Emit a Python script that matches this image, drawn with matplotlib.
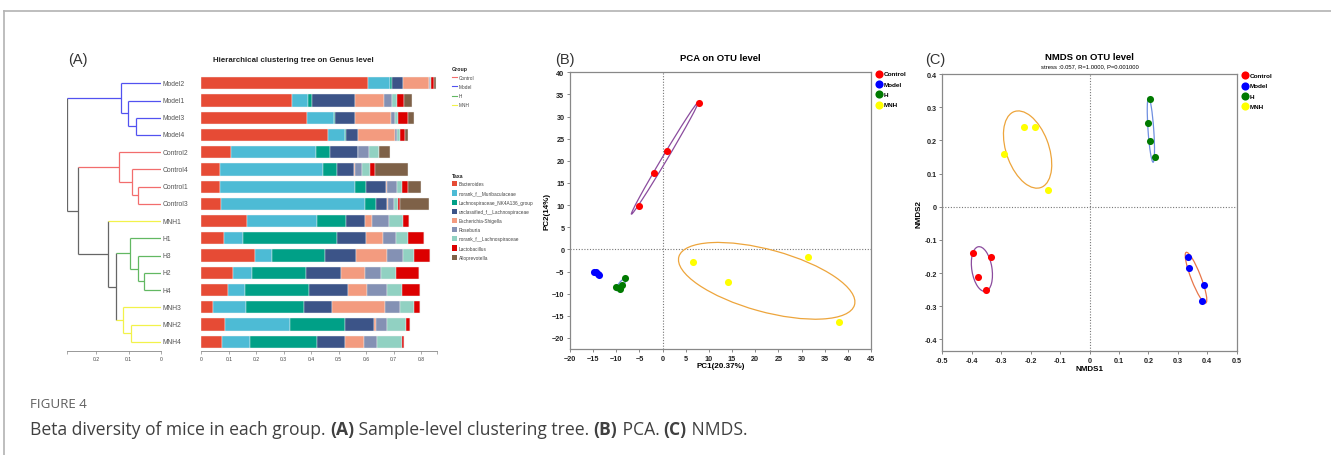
import numpy as np
import matplotlib
matplotlib.use("Agg")
import matplotlib.pyplot as plt
from matplotlib.patches import Ellipse, Rectangle
from matplotlib.lines import Line2D

plt.rcParams['font.family'] = ['Liberation Sans', 'DejaVu Sans']

W, H = 1331, 456

# ---------------- panel A data ----------------
samples = ["Model2", "Model1", "Model3", "Model4", "Control2", "Control4", "Control1", "Control3",
           "MNH1", "H1", "H3", "H2", "H4", "MNH3", "MNH2", "MNH4"]
groups = ["Control", "Model", "H", "MNH"]
group_line_colors = {"Control": "#f26d6d", "Model": "#5252f0", "H": "#62b862", "MNH": "#f2f24a"}

taxa = ["Bacteroides", "norank_f__Muribaculaceae", "Lachnospiraceae_NK4A136_group",
        "unclassified_f__Lachnospiraceae", "Escherichia-Shigella", "Roseburia",
        "norank_f__Lachnospiraceae", "Lactobacillus", "Alloprevotella"]
taxa_colors = ["#E64B35", "#4DBBD5", "#00A087", "#3C5488", "#F39B7F",
               "#8491B4", "#91D1C2", "#DC0000", "#7E6148"]

# relative abundance per sample, columns follow `taxa`
abundance = [
    [0.608, 0.081, 0.004, 0.042, 0.093, 0.004, 0.006, 0.008, 0.010],  # Model2
    [0.331, 0.058, 0.013, 0.158, 0.107, 0.029, 0.017, 0.025, 0.030],  # Model1
    [0.386, 0.097, 0.005, 0.072, 0.132, 0.013, 0.012, 0.034, 0.023],  # Model3
    [0.462, 0.062, 0.002, 0.046, 0.135, 0.007, 0.008, 0.019, 0.012],  # Model4
    [0.109, 0.307, 0.053, 0.102, 0.000, 0.039, 0.036, 0.000, 0.041],  # Control2
    [0.068, 0.377, 0.050, 0.062, 0.003, 0.027, 0.027, 0.018, 0.119],  # Control4
    [0.068, 0.492, 0.038, 0.075, 0.002, 0.036, 0.021, 0.022, 0.045],  # Control1
    [0.072, 0.524, 0.040, 0.042, 0.002, 0.020, 0.015, 0.010, 0.103],  # Control3
    [0.165, 0.255, 0.106, 0.070, 0.027, 0.061, 0.050, 0.023, 0.000],  # MNH1
    [0.081, 0.072, 0.341, 0.104, 0.062, 0.049, 0.045, 0.056, 0.000],  # H1
    [0.195, 0.061, 0.194, 0.115, 0.113, 0.055, 0.041, 0.059, 0.000],  # H3
    [0.117, 0.067, 0.198, 0.126, 0.087, 0.059, 0.055, 0.084, 0.000],  # H2
    [0.098, 0.062, 0.232, 0.143, 0.067, 0.076, 0.053, 0.066, 0.000],  # H4
    [0.044, 0.117, 0.214, 0.100, 0.193, 0.057, 0.049, 0.024, 0.000],  # MNH3
    [0.087, 0.237, 0.199, 0.107, 0.007, 0.041, 0.069, 0.012, 0.000],  # MNH2
    [0.074, 0.104, 0.242, 0.104, 0.069, 0.047, 0.092, 0.006, 0.000],  # MNH4
]

# clustering merges: (child, child, height); ints refer to earlier merges
tree_merges = [
    ("Model3", "Model4", 0.077),   # 0
    ("Model1", 0, 0.102),          # 1
    ("Model2", 1, 0.124),          # 2
    ("Control1", "Control3", 0.070),  # 3
    ("Control4", 3, 0.090),        # 4
    ("Control2", 4, 0.130),        # 5
    ("H2", "H4", 0.051),           # 6
    ("H3", 6, 0.070),              # 7
    ("H1", 7, 0.095),              # 8
    ("MNH2", "MNH4", 0.092),       # 9
    ("MNH3", 9, 0.116),            # 10
    (8, 10, 0.137),                # 11
    ("MNH1", 11, 0.163),           # 12
    (5, 12, 0.256),                # 13
    (2, 13, 0.290),                # 14
]

# ---------------- panel B / C data ----------------
pca_x = {"Control": [7.9, 1.0, -1.8, -5.2], "Model": [-14.8, -14.4, -14.0, -13.8],
         "H": [-10.0, -9.2, -8.7, -8.1], "MNH": [6.5, 14.1, 31.3, 38.0]}
pca_y = {"Control": [33.0, 22.3, 17.3, 9.8], "Model": [-5.2, -5.1, -5.5, -5.8],
         "H": [-8.5, -8.9, -8.0, -6.5], "MNH": [-2.9, -7.4, -1.7, -16.4]}

nmds_x = {"Control": [-0.397, -0.336, -0.379, -0.350], "Model": [0.336, 0.339, 0.390, 0.382],
          "H": [0.207, 0.200, 0.205, 0.222], "MNH": [-0.290, -0.224, -0.186, -0.141]}
nmds_y = {"Control": [-0.139, -0.152, -0.211, -0.250], "Model": [-0.151, -0.184, -0.236, -0.285],
          "H": [0.324, 0.253, 0.198, 0.150], "MNH": [0.158, 0.240, 0.240, 0.051]}

point_colors = {"Control": "#ff0000", "Model": "#0000ff", "H": "#007a00", "MNH": "#ffff00"}
ellipse_colors = {"Control": "#8b4c9e", "Model": "#e8764a", "H": "#6f8fe0", "MNH": "#eda53c"}

fig = plt.figure(figsize=(W / 100, H / 100), dpi=100)


def fax(left, top, right, bottom):
    return fig.add_axes([left / W, 1 - bottom / H, (right - left) / W, (bottom - top) / H])


ov = fig.add_axes([0, 0, 1, 1], zorder=-1)
ov.set_xlim(0, W)
ov.set_ylim(H, 0)
ov.axis('off')

# frame around the figure
ov.add_line(Line2D([4, W], [12, 12], color="#b3b3b3", lw=1.2))
ov.add_line(Line2D([4, 4], [12, H], color="#b3b3b3", lw=1.2))

grey = "#888888"
group_of = {s: g for s in samples for g in groups if s.startswith(g)}
group_of.update({s: "MNH" for s in samples if s.startswith("MNH")})

# ---------------- dendrogram ----------------
row_top, row_bot = 75.34, 351.7
ax_t = fax(66.75, row_top, 161, row_bot)
ax_t.set_xlim(0.29, 0)
ax_t.set_ylim(15.52, -0.52)


def node_info(node, done):
    if isinstance(node, str):
        return samples.index(node), 0.0, group_of[node]
    return done[node]


done = []
for a, b, h in tree_merges:
    ya, ha, ca = node_info(a, done)
    yb, hb, cb = node_info(b, done)
    c = ca if ca == cb else None
    col = group_line_colors[c] if c else "#666666"
    ax_t.plot([h, h], [ya, yb], color=col, lw=0.9, solid_capstyle='butt')
    for y0, h0, cc in ((ya, ha, ca), (yb, hb, cb)):
        ax_t.plot([h, h0], [y0, y0], color=group_line_colors[cc] if cc else "#666666",
                  lw=0.9, solid_capstyle='butt')
    done.append(((ya + yb) / 2, h, c))

for i, s in enumerate(samples):
    ax_t.text(-0.006, i, s, ha='left', va='center', fontsize=4.9, color="#555555", clip_on=False)

for sp in ("left", "top", "right"):
    ax_t.spines[sp].set_visible(False)
ax_t.spines["bottom"].set_color(grey)
ax_t.spines["bottom"].set_linewidth(0.6)
ax_t.set_yticks([])
ax_t.set_xticks([0.29, 0.2, 0.1, 0])
ax_t.set_xticklabels(["", "0.2", "0.1", "0"])
ax_t.tick_params(axis='x', labelsize=3.6, length=2, width=0.5, color=grey, labelcolor="#444444", pad=2)

# ---------------- stacked bars ----------------
ax_b = fax(201.3, row_top, 201.3 + 0.86 * 274.6, row_bot)
ab = np.array(abundance)
left = np.zeros(len(samples))
rows = np.arange(len(samples))
for j, t in enumerate(taxa):
    ax_b.barh(rows, ab[:, j], left=left, height=0.71, color=taxa_colors[j],
              edgecolor="#f2f2f2", linewidth=0.3)
    left += ab[:, j]
ax_b.set_xlim(0, 0.86)
ax_b.set_ylim(15.52, -0.52)
for sp in ("left", "top", "right"):
    ax_b.spines[sp].set_visible(False)
ax_b.spines["bottom"].set_color(grey)
ax_b.spines["bottom"].set_linewidth(0.6)
ax_b.set_yticks([])
ax_b.set_xticks(np.arange(0, 0.81, 0.1))
ax_b.set_xticklabels(["0"] + ["%.1f" % v for v in np.arange(0.1, 0.81, 0.1)])
ax_b.set_xticks([0.86], minor=True)
ax_b.tick_params(axis='x', which='both', labelsize=3.6, length=2, width=0.5, color=grey,
                 labelcolor="#444444", pad=2)

ov.text(78, 60, "(A)", fontsize=10.5, ha='center', va='center', color="#333333")
ov.text(293, 60, "Hierarchical clustering tree on Genus level", fontsize=5.7, fontweight='bold',
        ha='center', va='center', color="#222222")

# group legend
ov.text(451.5, 70, "Group", fontsize=3.8, fontweight='bold', va='center', color="#222222")
for k, g in enumerate(groups):
    y = 78.3 + 9.1 * k
    ov.add_line(Line2D([451.5, 457], [y, y], color=group_line_colors[g], lw=0.8))
    ov.text(459, y, g, fontsize=3.4, va='center', color="#444444")

# taxa legend
ov.text(451.5, 176.7, "Taxa", fontsize=3.8, fontweight='bold', va='center', color="#222222")
for k, t in enumerate(taxa):
    y = 184.7 + 9.2 * k
    ov.add_patch(Rectangle((451.5, y - 2.6), 5, 5.2, color=taxa_colors[k], lw=0))
    ov.text(459, y, t, fontsize=3.4, va='center', color="#444444")


# ---------------- ordination panels ----------------
def cov_ellipse(ax, x, y, color, n=1.3):
    x, y = np.asarray(x), np.asarray(y)
    vals, vecs = np.linalg.eigh(np.cov(x, y))
    ang = np.degrees(np.arctan2(vecs[1, 1], vecs[0, 1]))
    ax.add_patch(Ellipse((x.mean(), y.mean()), 2 * n * np.sqrt(vals[1]), 2 * n * np.sqrt(vals[0]),
                         angle=ang, fill=False, ec=color, lw=0.9, zorder=2))


def style_ord(ax):
    for sp in ax.spines.values():
        sp.set_color(grey)
        sp.set_linewidth(0.9)
    ax.tick_params(labelsize=5.2, length=2.5, width=0.7, color=grey, labelcolor="#222222", pad=1.5)
    for lab in ax.get_xticklabels() + ax.get_yticklabels():
        lab.set_fontweight('bold')
    ax.axhline(0, color="#777777", lw=0.8, ls=(0, (1, 1.5)), zorder=1)
    ax.axvline(0, color="#777777", lw=0.8, ls=(0, (1, 1.5)), zorder=1)


def draw_points(ax, xs, ys):
    handles = []
    for g in groups:
        cov_ellipse(ax, xs[g], ys[g], ellipse_colors[g])
        handles.append(ax.scatter(xs[g], ys[g], s=26, color=point_colors[g], lw=0, zorder=3, label=g))
    leg = ax.legend(handles=handles, loc='upper left', bbox_to_anchor=(1.015, 1.005), frameon=False,
                    fontsize=4.6, borderpad=0, borderaxespad=0, handletextpad=0.1,
                    labelspacing=0.75, markerscale=1.15, handlelength=1.2)
    for t in leg.get_texts():
        t.set_fontweight('bold')


ax_p = fax(570, 73.3, 871, 350)
draw_points(ax_p, pca_x, pca_y)
ax_p.set_xlim(-20, 45)
ax_p.set_ylim(-22.5, 40)
ax_p.set_xticks(np.arange(-20, 46, 5))
ax_p.set_yticks(np.arange(-20, 41, 5))
style_ord(ax_p)
ax_p.set_xlabel("PC1(20.37%)", fontsize=5.8, fontweight='bold', labelpad=0.5)
ax_p.set_ylabel("PC2(14%)", fontsize=5.8, fontweight='bold', labelpad=1)
ax_p.set_title("PCA on OTU level", fontsize=6.8, fontweight='bold', pad=9)
ov.text(565, 60, "(B)", fontsize=10.5, ha='center', va='center', color="#333333")

ax_n = fax(942.3, 75, 1236.7, 352.3)
draw_points(ax_n, nmds_x, nmds_y)
ax_n.set_xlim(-0.5, 0.5)
ax_n.set_ylim(-0.436, 0.4)
xt = np.round(np.arange(-0.5, 0.51, 0.1), 1)
yt = np.round(np.arange(-0.4, 0.41, 0.1), 1)
ax_n.set_xticks(xt)
ax_n.set_xticklabels(["0" if v == 0 else "%.1f" % v for v in xt])
ax_n.set_yticks(yt)
ax_n.set_yticklabels(["0" if v == 0 else "%.1f" % v for v in yt])
style_ord(ax_n)
ax_n.set_xlabel("NMDS1", fontsize=5.8, fontweight='bold', labelpad=0.5)
ax_n.set_ylabel("NMDS2", fontsize=5.8, fontweight='bold', labelpad=1)
ax_n.set_title("NMDS on OTU level", fontsize=6.8, fontweight='bold', pad=11)
ax_n.text(0.5, 1.03, "stress :0.057, R=1.0000, P=0.001000", transform=ax_n.transAxes,
          ha='center', va='center', fontsize=4.2)
ov.text(935, 60, "(C)", fontsize=10.5, ha='center', va='center', color="#333333")

# ---------------- caption ----------------
ov.text(30, 405, "FIGURE 4", fontsize=9.6, family="Open Sans", va='center', color="#5f5f5f")
renderer = fig.canvas.get_renderer()
pieces = [("Beta diversity of mice in each group. ", "normal"), ("(A)", "bold"),
          (" Sample-level clustering tree. ", "normal"), ("(B)", "bold"), (" PCA. ", "normal"),
          ("(C)", "bold"), (" NMDS.", "normal")]
x = 30
for s, w in pieces:
    t = ov.text(x, 430, s, fontsize=12.65, family="Open Sans", fontweight=w, va='center',
                color="#404040")
    x += t.get_window_extent(renderer).width

fig.savefig("out.png", dpi=100)
